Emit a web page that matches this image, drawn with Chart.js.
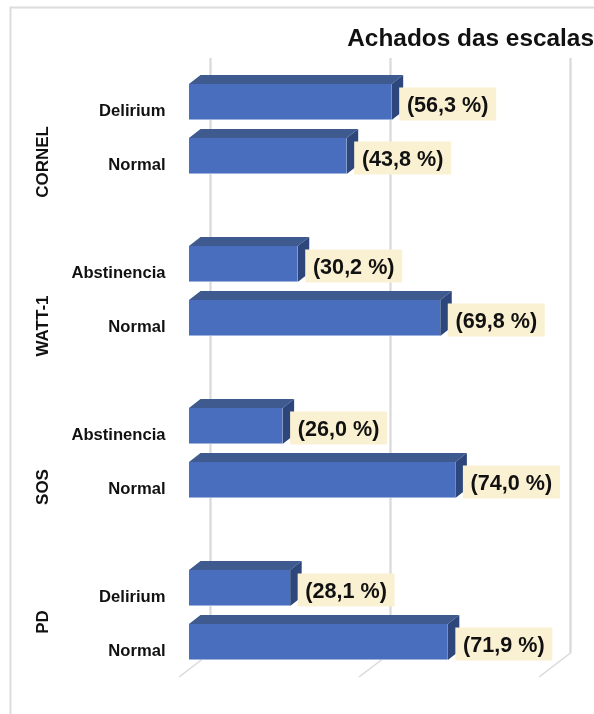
<!DOCTYPE html>
<html lang="pt">
<head>
<meta charset="utf-8">
<title>Achados das escalas</title>
<script src="https://cdn.jsdelivr.net/npm/chart.js@4/dist/chart.umd.js"></script>
<style>
  html, body { margin: 0; padding: 0; background: #fff; overflow: hidden; }
  canvas { display: block; }
</style>
</head>
<body>
<canvas id="chart" width="594" height="714"></canvas>
<script>
// Rows from top to bottom; an empty name leaves a gap between scales.
const categories = ['Delirium', 'Normal', '', 'Abstinencia', 'Normal', '', 'Abstinencia', 'Normal', '', 'Delirium', 'Normal'];
const percentages = [56.3, 43.8, null, 30.2, 69.8, null, 26.0, 74.0, null, 28.1, 71.9];
const scaleNames = ['CORNEL', 'WATT-1', 'SOS', 'PD'];
const scaleFirstRows = [0, 3, 6, 9];
const scaleLabelShift = [33, 35, 34, 7];
const gridTicks = [0, 50, 100];

const FONT = '"Liberation Sans", Arial, sans-serif';
const COLORS = {
  front: '#4A6EBE', top: '#3E5A8F', side: '#2D477C', edge: '#9DB2DF',
  grid: '#D9D9D9', frame: '#DCDCDC', box: '#FAF0D2', text: '#111111'
};
const DEPTH = { x: 11.5, y: 9 };          // oblique offset of the bar's back faces
const FLOOR = { x: 31.5, y: 24, front: 677 };

const percentText = v => '(' + v.toFixed(1).replace('.', ',') + ' %)';

function polygon(ctx, pts, fill) {
  ctx.fillStyle = fill;
  ctx.beginPath();
  pts.forEach((p, i) => i ? ctx.lineTo(p[0], p[1]) : ctx.moveTo(p[0], p[1]));
  ctx.closePath();
  ctx.fill();
}

// Outer frame, back-wall gridlines and the slanted floor ticks.
const backdrop = {
  id: 'backdrop',
  beforeDraw(chart) {
    const { ctx, scales: { x } } = chart;
    ctx.save();
    ctx.strokeStyle = COLORS.frame;
    ctx.lineWidth = 2;
    ctx.beginPath();
    ctx.moveTo(10.5, 714);
    ctx.lineTo(10.5, 7.5);
    ctx.lineTo(594, 7.5);
    ctx.stroke();

    ctx.strokeStyle = COLORS.grid;
    gridTicks.forEach(t => {
      const front = x.getPixelForValue(t) - 10;
      const back = front + FLOOR.x;
      ctx.lineWidth = 2.2;
      ctx.beginPath();
      ctx.moveTo(back, 58);
      ctx.lineTo(back, FLOOR.front - FLOOR.y);
      ctx.stroke();
      ctx.lineWidth = 1.5;
      ctx.beginPath();
      ctx.moveTo(back, FLOOR.front - FLOOR.y);
      ctx.lineTo(front, FLOOR.front);
      ctx.stroke();
    });
    ctx.restore();
  }
};

// Top and side faces behind each bar's front rectangle.
const barDepth = {
  id: 'barDepth',
  beforeDatasetsDraw(chart) {
    const { ctx } = chart;
    ctx.save();
    chart.getDatasetMeta(0).data.forEach((bar, i) => {
      if (percentages[i] === null) return;
      const { x: r, y: cy, base: l, height: h } = bar.getProps(['x', 'y', 'base', 'height'], true);
      const t = cy - h / 2, b = cy + h / 2;
      polygon(ctx, [[l, t], [l + DEPTH.x, t - DEPTH.y], [r + DEPTH.x, t - DEPTH.y], [r, t]], COLORS.top);
      polygon(ctx, [[r, t], [r + DEPTH.x, t - DEPTH.y], [r + DEPTH.x, b - DEPTH.y], [r, b]], COLORS.side);
    });
    ctx.restore();
  }
};

// Value tags beside the bars and the rotated scale names on the left.
const annotations = {
  id: 'annotations',
  afterDatasetsDraw(chart) {
    const { ctx, scales: { y } } = chart;
    ctx.save();
    chart.getDatasetMeta(0).data.forEach((bar, i) => {
      const v = percentages[i];
      if (v === null) return;
      const { x: r, y: cy, height: h } = bar.getProps(['x', 'y', 'height'], true);
      const boxX = r + 7.5, boxY = cy - h / 2 + 3.5;
      ctx.fillStyle = COLORS.box;
      ctx.fillRect(boxX, boxY, 97, 33);
      ctx.fillStyle = COLORS.text;
      ctx.font = 'bold 21.6px ' + FONT;
      ctx.textAlign = 'center';
      ctx.textBaseline = 'middle';
      ctx.fillText(percentText(v), boxX + 48.5, boxY + 18.5);
    });
    scaleNames.forEach((name, i) => {
      const first = scaleFirstRows[i];
      const mid = (y.getPixelForValue(first) + y.getPixelForValue(first + 1)) / 2;
      ctx.save();
      ctx.translate(43, mid + scaleLabelShift[i]);
      ctx.rotate(-Math.PI / 2);
      ctx.fillStyle = COLORS.text;
      ctx.font = 'bold 17px ' + FONT;
      ctx.textAlign = 'center';
      ctx.textBaseline = 'middle';
      ctx.fillText(name, 0, 0);
      ctx.restore();
    });
    ctx.restore();
  }
};

new Chart(document.getElementById('chart'), {
  type: 'bar',
  data: {
    labels: categories,
    datasets: [{
      data: percentages,
      backgroundColor: COLORS.front,
      borderColor: COLORS.edge,
      borderWidth: { left: 1, bottom: 1 },
      barPercentage: 2 / 3,
      categoryPercentage: 1
    }]
  },
  plugins: [backdrop, barDepth, annotations],
  options: {
    indexAxis: 'y',
    responsive: false,
    animation: false,
    layout: { padding: { left: 0, right: 0, top: 0, bottom: 45 } },
    plugins: {
      legend: { display: false },
      tooltip: { enabled: false },
      title: {
        display: true,
        text: 'Achados das escalas',
        align: 'end',
        color: COLORS.text,
        font: { family: FONT, size: 24.4, weight: 'bold', lineHeight: 1.2 },
        padding: { top: 25, bottom: 20.7 }
      }
    },
    scales: {
      x: { display: false, min: 0, max: 112.5 },
      y: {
        afterFit(scale) { scale.width = 189; },
        grid: { display: false, drawTicks: false },
        border: { display: false },
        ticks: {
          autoSkip: false,
          padding: 23.5,
          labelOffset: 9,
          color: COLORS.text,
          font: { family: FONT, size: 16.6, weight: 'bold' }
        }
      }
    }
  }
});
</script>
</body>
</html>
